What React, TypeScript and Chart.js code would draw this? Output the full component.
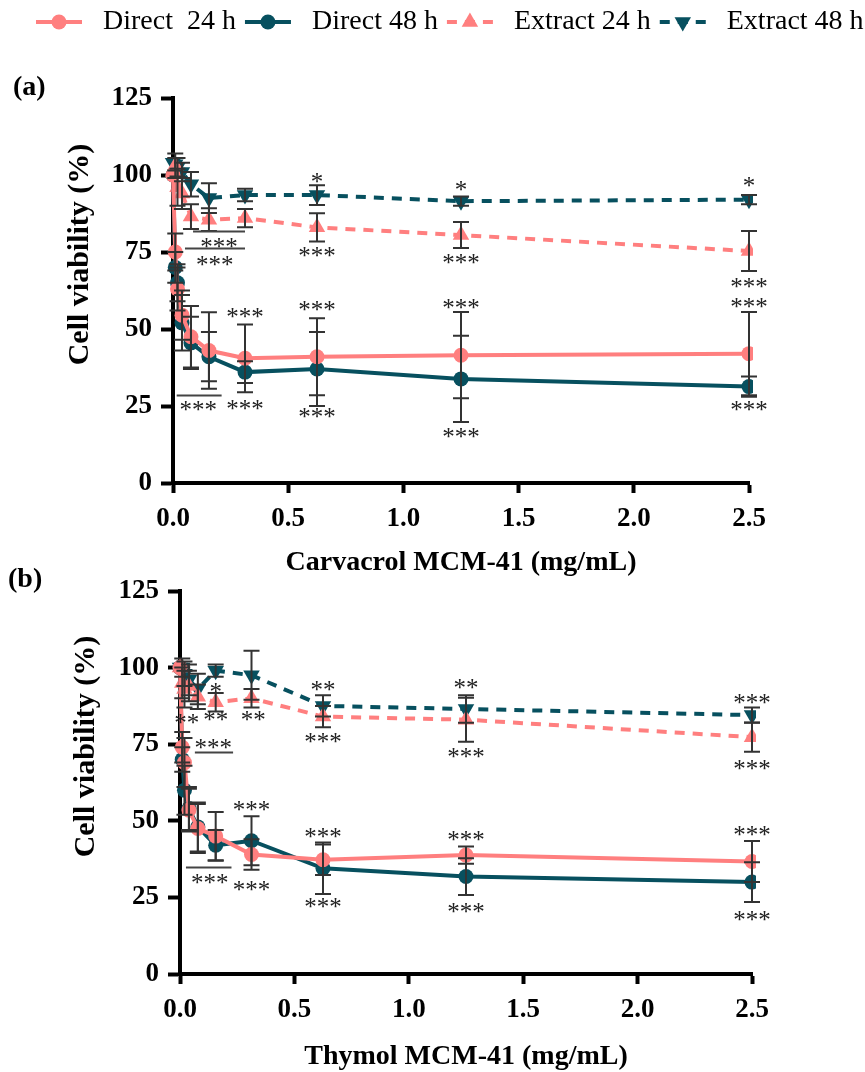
import React, { useEffect, useRef } from 'react';
import { Chart, registerables } from 'chart.js';

Chart.register(...registerables);

const SERIF = "'Liberation Serif', 'Times New Roman', serif";
const PINK = '#FF7F7F';
const TEAL = '#07505F';

// ---------- data ----------
const concentrations = [0, 0.0098, 0.0195, 0.039, 0.078, 0.156, 0.3125, 0.625, 1.25, 2.5];
const seriesLabels = ['Direct  24 h', 'Direct 48 h', 'Extract 24 h', 'Extract 48 h'];
const yTitle = 'Cell viability (%)';
const carvacrolTitle = 'Carvacrol MCM-41 (mg/mL)';
const thymolTitle = 'Thymol MCM-41 (mg/mL)';

// Panel (a) – Carvacrol MCM-41
const carvacrolDirect24 = [100, 75, 63, 54.5, 47.5, 43, 40.5, 41, 41.5, 42];
const carvacrolDirect48 = [100, 70, 65, 52, 45.5, 41, 36, 37, 33.8, 31.3];
const carvacrolExtract24 = [101, 103, 96, 94, 86.5, 85.5, 86, 83, 80.5, 75.3];
const carvacrolExtract48 = [104, 103.5, 102.5, 101, 97, 92.5, 93.5, 93.5, 91.5, 92];
const carvacrolDirect24Sd = [0, 6, 7, 8, 10, 12.4, 11, 12.5, 14, 13.5];
const carvacrolDirect48Sd = [0, 5, 6, 9, 8.5, 8, 3.5, 12, 14, 3.3];
const carvacrolExtract24Sd = [0, 4, 6, 5, 4, 3.7, 3, 4.6, 4.2, 6.5];
const carvacrolExtract48Sd = [0, 2, 3, 3, 4, 4.8, 2, 3.2, 1.5, 1.5];
const carvacrolMarks = [
  { x: 0.625, y: 98.9, text: '*' },
  { x: 1.25, y: 96.4, text: '*' },
  { x: 2.5, y: 97.5, text: '*' },
  { x: 0.625, y: 74.8, text: '***' },
  { x: 1.25, y: 72.6, text: '***' },
  { x: 2.5, y: 64.8, text: '***' },
  { x: 0.3125, y: 55.1, text: '***' },
  { x: 0.625, y: 57.2, text: '***' },
  { x: 1.25, y: 57.8, text: '***' },
  { x: 2.5, y: 58.3, text: '***' },
  { x: 0.3125, y: 25.3, text: '***' },
  { x: 0.625, y: 22.6, text: '***' },
  { x: 1.25, y: 16.2, text: '***' },
  { x: 2.5, y: 24.8, text: '***' },
  { x: 0.2, y: 77.8, text: '***' },
  { x: 0.181, y: 71.9, text: '***' },
  { x: 0.11, y: 24.8, text: '***' },
];
const carvacrolBrackets = [
  { x1: 0.087, x2: 0.3125, y: 81.9 },
  { x1: 0.052, x2: 0.3125, y: 76.2 },
  { x1: 0.016, x2: 0.211, y: 28.6 },
];

// Panel (b) – Thymol MCM-41
const thymolDirect24 = [100, 74, 69, 53.5, 47.5, 45, 39, 37.3, 38.8, 36.7];
const thymolDirect48 = [100, 70, 60, 54, 48, 42, 43.5, 34.5, 31.8, 30];
const thymolExtract24 = [100, 95, 93, 94, 90.5, 88.7, 90, 84, 83, 77.3];
const thymolExtract48 = [100, 100, 98, 96, 93, 99, 97.5, 87.5, 86.5, 84.5];
const thymolDirect24Sd = [0, 5, 8, 7, 8, 7.9, 5, 5, 2.8, 6.7];
const thymolDirect48Sd = [0, 4, 8, 7, 8, 5, 8, 8.4, 6, 6.5];
const thymolExtract24Sd = [0, 5, 6, 5, 4, 3, 3, 3.5, 7.2, 4.8];
const thymolExtract48Sd = [0, 3, 4, 5, 5, 2, 8, 3.5, 4.5, 2.5];
const thymolMarks = [
  { x: 0.156, y: 93.3, text: '*' },
  { x: 0.03, y: 83, text: '**' },
  { x: 0.156, y: 84, text: '**' },
  { x: 0.32, y: 84, text: '**' },
  { x: 0.145, y: 74.8, text: '***' },
  { x: 0.625, y: 93.9, text: '**' },
  { x: 0.625, y: 77, text: '***' },
  { x: 1.25, y: 94.4, text: '**' },
  { x: 1.25, y: 71.9, text: '***' },
  { x: 2.5, y: 89.5, text: '***' },
  { x: 2.5, y: 68, text: '***' },
  { x: 0.3125, y: 54.7, text: '***' },
  { x: 0.3125, y: 28.4, text: '***' },
  { x: 0.625, y: 45.8, text: '***' },
  { x: 0.625, y: 23, text: '***' },
  { x: 1.25, y: 44.9, text: '***' },
  { x: 1.25, y: 21.5, text: '***' },
  { x: 2.5, y: 46.5, text: '***' },
  { x: 2.5, y: 18.8, text: '***' },
  { x: 0.13, y: 30.8, text: '***' },
];
const thymolBrackets = [
  { x1: 0.065, x2: 0.232, y: 72.6 },
  { x1: 0.026, x2: 0.225, y: 34.9 },
];

// ---------- styles ----------
const seriesStyles = [
  { color: PINK, pointStyle: 'circle', rotation: 0, dash: [] as number[], radius: 7.5 },
  { color: TEAL, pointStyle: 'circle', rotation: 0, dash: [] as number[], radius: 7.5 },
  { color: PINK, pointStyle: 'triangle', rotation: 0, dash: [10, 8], radius: 9.5 },
  { color: TEAL, pointStyle: 'triangle', rotation: 180, dash: [10, 8], radius: 9.5 },
];

function buildDatasets(values: number[][], sds: number[][]) {
  return values.map((vals, i) => {
    const s = seriesStyles[i];
    return {
      label: seriesLabels[i],
      data: concentrations.map((c, j) => ({ x: c, y: vals[j] })),
      errorBars: sds[i],
      borderColor: s.color,
      backgroundColor: s.color,
      pointBackgroundColor: s.color,
      pointBorderColor: s.color,
      pointBorderWidth: 0,
      pointStyle: s.pointStyle,
      pointRotation: s.rotation,
      pointRadius: s.radius,
      borderWidth: 4,
      borderDash: s.dash,
      tension: 0,
      clip: { left: false, top: false, right: 4, bottom: false },
    };
  });
}

function drawMarker(ctx: CanvasRenderingContext2D, style: string, rotation: number, x: number, y: number, r: number, color: string) {
  ctx.fillStyle = color;
  ctx.beginPath();
  if (style === 'circle') {
    ctx.arc(x, y, r, 0, Math.PI * 2);
  } else {
    let rad = (rotation * Math.PI) / 180;
    ctx.moveTo(x + Math.sin(rad) * r, y - Math.cos(rad) * r);
    rad += (2 * Math.PI) / 3;
    ctx.lineTo(x + Math.sin(rad) * r, y - Math.cos(rad) * r);
    rad += (2 * Math.PI) / 3;
    ctx.lineTo(x + Math.sin(rad) * r, y - Math.cos(rad) * r);
    ctx.closePath();
  }
  ctx.fill();
}

// ---------- plugins ----------
const errorBarPlugin = {
  id: 'errorBars',
  afterDatasetsDraw(chart: any) {
    const ctx = chart.ctx;
    const xs = chart.scales.x;
    const ys = chart.scales.y;
    ctx.save();
    ctx.strokeStyle = '#333';
    ctx.lineWidth = 2;
    chart.data.datasets.forEach((ds: any) => {
      ds.data.forEach((p: any, i: number) => {
        const sd = ds.errorBars ? ds.errorBars[i] : 0;
        if (!sd) return;
        const px = xs.getPixelForValue(p.x);
        const t = ys.getPixelForValue(p.y + sd);
        const b = ys.getPixelForValue(p.y - sd);
        ctx.beginPath();
        ctx.moveTo(px, t);
        ctx.lineTo(px, b);
        ctx.moveTo(px - 8, t);
        ctx.lineTo(px + 8, t);
        ctx.moveTo(px - 8, b);
        ctx.lineTo(px + 8, b);
        ctx.stroke();
      });
    });
    ctx.restore();
  },
};

const STAR_SIZE = 25;
const STAR_GAP = 12.5;

const sigPlugin = {
  id: 'sigMarks',
  afterDatasetsDraw(chart: any, _args: any, opts: any) {
    const ctx = chart.ctx;
    const xs = chart.scales.x;
    const ys = chart.scales.y;
    ctx.save();
    ctx.strokeStyle = '#444';
    ctx.lineWidth = 2;
    (opts.brackets || []).forEach((b: any) => {
      const y = Math.round(ys.getPixelForValue(b.y)) + 0.5;
      ctx.beginPath();
      ctx.moveTo(xs.getPixelForValue(b.x1), y);
      ctx.lineTo(xs.getPixelForValue(b.x2), y);
      ctx.stroke();
    });
    ctx.font = `${STAR_SIZE}px ${SERIF}`;
    ctx.fillStyle = '#222';
    ctx.textAlign = 'center';
    ctx.textBaseline = 'alphabetic';
    (opts.marks || []).forEach((m: any) => {
      const cx = xs.getPixelForValue(m.x);
      const cy = ys.getPixelForValue(m.y) + STAR_SIZE * 0.46;
      const chars = m.text.split('');
      const start = cx - ((chars.length - 1) * STAR_GAP) / 2;
      chars.forEach((ch: string, k: number) => ctx.fillText(ch, start + k * STAR_GAP, cy));
    });
    ctx.restore();
  },
};

const yTitlePlugin = {
  id: 'yTitle',
  afterDraw(chart: any, _args: any, opts: any) {
    const ctx = chart.ctx;
    const area = chart.chartArea;
    ctx.save();
    ctx.translate(opts.x, (area.top + area.bottom) / 2 + opts.dy);
    ctx.rotate(-Math.PI / 2);
    ctx.font = `bold 30px ${SERIF}`;
    ctx.fillStyle = '#000';
    ctx.textAlign = 'center';
    ctx.textBaseline = 'middle';
    ctx.fillText(opts.text, 0, 0);
    ctx.restore();
  },
};

const topLegendPlugin = {
  id: 'topLegend',
  afterDraw(chart: any, _args: any, opts: any) {
    if (!opts || !opts.show) return;
    const ctx = chart.ctx;
    ctx.save();
    ctx.font = `28px ${SERIF}`;
    ctx.textBaseline = 'middle';
    ctx.textAlign = 'left';
    let x = opts.x;
    const y = opts.y;
    chart.data.datasets.forEach((ds: any) => {
      ctx.strokeStyle = ds.borderColor;
      ctx.lineWidth = 4;
      ctx.setLineDash(ds.borderDash || []);
      ctx.beginPath();
      ctx.moveTo(x, y);
      ctx.lineTo(x + 46, y);
      ctx.stroke();
      ctx.setLineDash([]);
      drawMarker(ctx, ds.pointStyle, ds.pointRotation, x + 23, y, ds.pointRadius, ds.borderColor);
      ctx.fillStyle = '#000';
      ctx.fillText(ds.label, x + 67, y);
      x += 67 + ctx.measureText(ds.label).width + 9;
    });
    ctx.restore();
  },
};

// ---------- config ----------
function makeConfig(p: {
  values: number[][];
  sds: number[][];
  marks: any[];
  brackets: any[];
  xTitle: string;
  padding: any;
  yAxisWidth: number;
  xAxisHeight: number;
  titleBottom: number;
  yTitleX: number;
  showLegend: boolean;
}) {
  const tickFont = { family: SERIF, size: 27, weight: 'bold' as const };
  return {
    type: 'line' as const,
    data: { datasets: buildDatasets(p.values, p.sds) },
    options: {
      responsive: false,
      animation: false as const,
      devicePixelRatio: 1,
      layout: { padding: p.padding },
      plugins: {
        legend: { display: false },
        tooltip: { enabled: false },
        sigMarks: { marks: p.marks, brackets: p.brackets },
        yTitle: { text: yTitle, x: p.yTitleX, dy: -36 },
        topLegend: { show: p.showLegend, x: 36, y: 22 },
      },
      scales: {
        x: {
          type: 'linear' as const,
          min: 0,
          max: 2.5,
          ticks: {
            stepSize: 0.5,
            autoSkip: false,
            maxRotation: 0,
            padding: 10,
            color: '#000',
            font: tickFont,
            callback: (v: any) => Number(v).toFixed(1),
          },
          grid: { display: true, drawOnChartArea: false, drawTicks: true, tickLength: 10, tickWidth: 4, tickColor: '#000' },
          border: { display: true, width: 4, color: '#000' },
          title: {
            display: true,
            text: p.xTitle,
            color: '#000',
            font: { family: SERIF, size: 28, weight: 'bold' as const },
            padding: { top: 0, bottom: p.titleBottom },
          },
          afterFit: (s: any) => {
            s.height = p.xAxisHeight;
          },
        },
        y: {
          type: 'linear' as const,
          min: 0,
          max: 125,
          ticks: { stepSize: 25, padding: 9, color: '#000', font: tickFont },
          grid: { display: true, drawOnChartArea: false, drawTicks: true, tickLength: 12, tickWidth: 4, tickColor: '#000' },
          border: { display: true, width: 4, color: '#000' },
          afterFit: (s: any) => {
            s.width = p.yAxisWidth;
          },
        },
      },
    },
    plugins: [errorBarPlugin, sigPlugin, yTitlePlugin, topLegendPlugin],
  };
}

function ChartCanvas({ config, top, height }: { config: any; top: number; height: number }) {
  const ref = useRef<HTMLCanvasElement | null>(null);
  useEffect(() => {
    if (!ref.current) return;
    const chart = new Chart(ref.current, config);
    return () => chart.destroy();
  }, [config]);
  return <canvas ref={ref} width={865} height={height} style={{ position: 'absolute', left: 0, top, width: 865, height }} />;
}

const configA = makeConfig({
  values: [carvacrolDirect24, carvacrolDirect48, carvacrolExtract24, carvacrolExtract48],
  sds: [carvacrolDirect24Sd, carvacrolDirect48Sd, carvacrolExtract24Sd, carvacrolExtract48Sd],
  marks: carvacrolMarks,
  brackets: carvacrolBrackets,
  xTitle: carvacrolTitle,
  padding: { left: 0, right: 116, top: 98, bottom: 0 },
  yAxisWidth: 173,
  xAxisHeight: 97,
  titleBottom: 0,
  yTitleX: 80,
  showLegend: true,
});

const configB = makeConfig({
  values: [thymolDirect24, thymolDirect48, thymolExtract24, thymolExtract48],
  sds: [thymolDirect24Sd, thymolDirect48Sd, thymolExtract24Sd, thymolExtract48Sd],
  marks: thymolMarks,
  brackets: thymolBrackets,
  xTitle: thymolTitle,
  padding: { left: 0, right: 113, top: 31, bottom: 0 },
  yAxisWidth: 180,
  xAxisHeight: 98,
  titleBottom: -2,
  yTitleX: 86,
  showLegend: false,
});

const panelLabel: React.CSSProperties = {
  position: 'absolute',
  fontFamily: SERIF,
  fontWeight: 'bold',
  fontSize: 28,
  lineHeight: '28px',
  color: '#000',
  margin: 0,
};

export default function App() {
  return (
    <div style={{ position: 'absolute', left: 0, top: 0, width: 865, height: 1072, background: '#fff', overflow: 'hidden' }}>
      <ChartCanvas config={configA} top={0} height={580} />
      <ChartCanvas config={configB} top={560} height={512} />
      <div style={{ ...panelLabel, left: 13, top: 72 }}>(a)</div>
      <div style={{ ...panelLabel, left: 8, top: 564 }}>(b)</div>
    </div>
  );
}
